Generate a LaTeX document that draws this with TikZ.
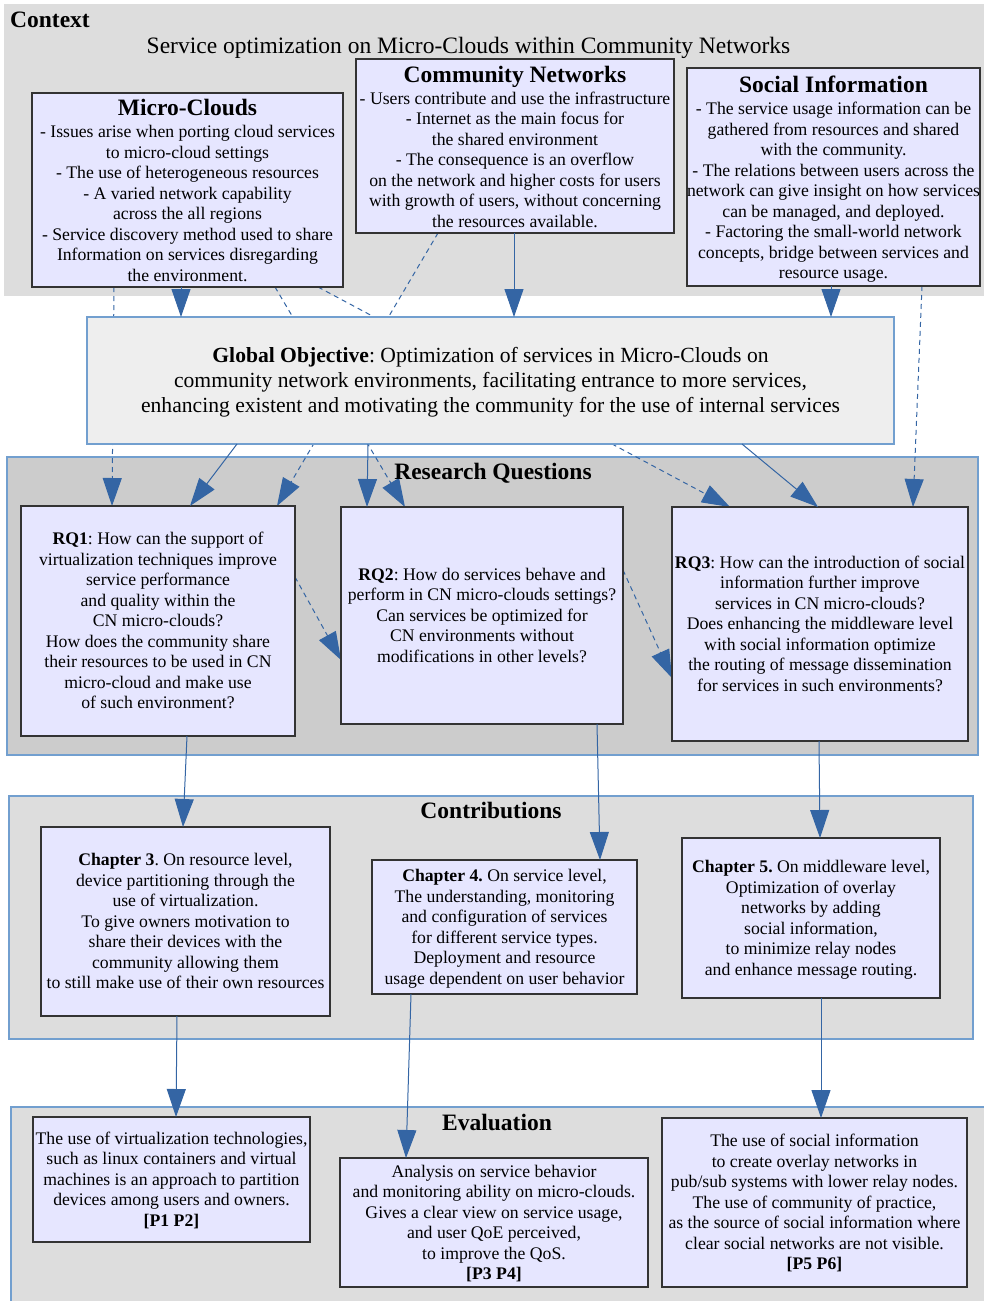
\documentclass[tikz,border=0pt]{standalone}
\usepackage{fontspec}
\setmainfont{Liberation Serif}
\usetikzlibrary{arrows.meta}
\frenchspacing

\definecolor{conn}{HTML}{3465A4}
\definecolor{panelgray}{HTML}{DDDDDD}
\definecolor{rqgray}{HTML}{CCCCCC}
\definecolor{panelline}{HTML}{729FCF}
\definecolor{boxfill}{HTML}{E6E6FF}
\definecolor{boxline}{HTML}{333333}
\definecolor{objfill}{HTML}{EEEEEE}

\pgfdeclarelayer{panels}
\pgfdeclarelayer{links}
\pgfsetlayers{panels,links,main}

\newcommand\bodyfont{\fontsize{17.7}{20.5}\selectfont}
\newcommand\headfont{\fontsize{23.5}{27}\selectfont\bfseries}
\newcommand\objfont{\fontsize{21.6}{25}\selectfont}
% full line-box struts for the first and the last line of a text block
\newcommand\fs{\rule{0pt}{0.891em}}
\newcommand\ls{\rule[-0.216em]{0pt}{0.216em}}

\tikzset{
  area/.style n args={4}{minimum width={#3-#1}, minimum height={#4-#2},
    at={({(#1+#3)/2},{(#2+#4)/2})}, inner sep=0pt, outer sep=0pt},
  panel/.style={fill=panelgray, draw=panelline, line width=1.2pt},
  infobox/.style={fill=boxfill, draw=boxline, line width=1.2pt, align=center, font=\bodyfont},
  objbox/.style={fill=objfill, draw=panelline, line width=1.2pt, align=center, font=\objfont},
  heading/.style={font=\headfont, inner sep=0pt},
  link/.style={draw=conn, line width=1pt, -{Triangle[width=19pt,length=28pt]}},
  dlink/.style={link, dash pattern=on 5pt off 4pt}
}

\begin{document}
\begin{tikzpicture}[x=1pt, y=-1pt]
\useasboundingbox (0,0) rectangle (984,1301);

% ---- background panels ----
\begin{pgfonlayer}{panels}
  \node[area={4}{4}{990}{296}, fill=panelgray] (ctx) {};
  \node[panel, area={7}{457}{978}{755}, fill=rqgray] (rqp) {};
  \node[panel, area={9}{796}{973}{1039}] (ctp) {};
  \node[panel, area={11}{1107}{992}{1310}] (evp) {};
\end{pgfonlayer}

% ---- panel headings ----
\node[heading, anchor=base west] (ctxhead) at (10,27) {Context};
\node[anchor=base, inner sep=0pt, font=\fontsize{23.5}{27}\selectfont] (ctxtitle) at (468.5,53)
  {Service optimization on Micro-Clouds within Community Networks};
\node[heading, anchor=base] (rqhead) at (493,479) {Research Questions};
\node[heading, anchor=base] (cthead) at (491,818) {Contributions};
\node[heading, anchor=base] (evhead) at (497,1130) {Evaluation};

% ---- context boxes ----
\node[infobox, area={32}{93}{343}{287}] (mc) {{\headfont\fs Micro-Clouds}\\[1.5pt]
- Issues arise when porting cloud services\\
to micro-cloud settings\\
- The use of heterogeneous resources\\
- A varied network capability\\
across the all regions\\
- Service discovery method used to share\\
Information on services disregarding\\
the environment.\ls};

\node[infobox, area={356}{59}{674}{233}] (cn) {{\headfont\fs Community Networks}\\[1.5pt]
- Users contribute and use the infrastructure\\
- Internet as the main focus for\\
the shared environment\\
- The consequence is an overflow\\
on the network and higher costs for users\\
with growth of users, without concerning\\
the resources available.\ls};

\node[infobox, area={688}{68}{979}{286}] (si) {{\headfont\fs Social Information}\\[2pt]
- The service usage information can be\\
gathered from resources and shared\\
with the community.\\
- The relations between users across the\\
network can give insight on how services\\
can be managed, and deployed.\\
- Factoring the small-world network\\
concepts, bridge between services and\\
resource usage.\ls};

% ---- global objective ----
\node[objbox, area={87}{317}{894}{444}] (go) {\fs\textbf{Global Objective}: Optimization of services in Micro-Clouds on\\
community network environments, facilitating entrance to more services,\\
enhancing existent and motivating the community for the use of internal services\ls};

% ---- research questions ----
\node[infobox, area={21}{506}{295}{736}] (rq1) {\fs\textbf{RQ1}: How can the support of\\
virtualization techniques improve\\
service performance\\
and quality within the\\
CN micro-clouds?\\
How does the community share\\
their resources to be used in CN\\
micro-cloud and make use\\
of such environment?\ls};

\node[infobox, area={341}{507}{623}{724}] (rq2) {\fs\textbf{RQ2}: How do services behave and\\
perform in CN micro-clouds settings?\\
Can services be optimized for\\
CN environments without\\
modifications in other levels?\ls};

\node[infobox, area={672}{507}{968}{741}] (rq3) {\fs\textbf{RQ3}: How can the introduction of social\\
information further improve\\
services in CN micro-clouds?\\
Does enhancing the middleware level\\
with social information optimize\\
the routing of message dissemination\\
for services in such environments?\ls};

% ---- contributions ----
\node[infobox, area={41}{827}{330}{1016}] (c3) {\fs\textbf{Chapter 3}. On resource level,\\
device partitioning through the\\
use of virtualization.\\
To give owners motivation to\\
share their devices with the\\
community allowing them\\
to still make use of their own resources\ls};

\node[infobox, area={372}{860}{637}{994}] (c4) {\fs\textbf{Chapter 4.} On service level,\\
The understanding, monitoring\\
and configuration of services\\
for different service types.\\
Deployment and resource\\
usage dependent on user behavior\ls};

\node[infobox, area={682}{838}{940}{998}] (c5) {\fs\textbf{Chapter 5.} On middleware level,\\
Optimization of overlay\\
networks by adding\\
social information,\\
to minimize relay nodes\\
and enhance message routing.\ls};

% ---- evaluation ----
\node[infobox, area={33}{1117}{310}{1242}] (e1) {\fs The use of virtualization technologies,\\
such as linux containers and virtual\\
machines is an approach to partition\\
devices among users and owners.\\
\textbf{[P1 P2]}\ls};

\node[infobox, area={340}{1158}{648}{1287}] (e2) {\fs Analysis on service behavior\\
and monitoring ability on micro-clouds.\\
Gives a clear view on service usage,\\
and user QoE perceived,\\
to improve the QoS.\\
\textbf{[P3 P4]}\ls};

\node[infobox, area={662}{1118}{967}{1287}] (e3) {\fs The use of social information\\
to create overlay networks in\\
pub/sub systems with lower relay nodes.\\
The use of community of practice,\\
as the source of social information where\\
clear social networks are not visible.\\
\textbf{[P5 P6]}\ls};

% ---- dashed influences (run behind the global objective) ----
\begin{pgfonlayer}{links}
  \draw[dlink] (mc.south -| 114,0) -- (rq1.north -| 112,0);
  \draw[dlink] (mc.south -| 275,0) -- (rq2.north -| 405,0);
  \draw[dlink] (mc.south -| 318,0) -- (rq3.north -| 730,0);
  \draw[dlink] (cn.south -| 438,0) -- (rq1.north -| 277,0);
  \draw[dlink] (si.south -| 922,0) -- (rq3.north -| 913,0);
  \draw[dlink] (rq1.east |- 0,577) -- (rq2.west |- 0,660);
  \draw[dlink] (rq2.east |- 0,570) -- (rq3.west |- 0,678);
\end{pgfonlayer}

% ---- solid flow ----
\draw[link] (mc.south -| 181,0) -- (go.north -| 181,0);
\draw[link] (cn.south -| 514,0) -- (go.north -| 514,0);
\draw[link] (si.south -| 831,0) -- (go.north -| 831,0);
\draw[link] (go.south -| 237,0) -- (rq1.north -| 190,0);
\draw[link] (go.south -| 368,0) -- (rq2.north -| 367,0);
\draw[link] (go.south -| 742,0) -- (rq3.north -| 818,0);
\draw[link] (rq1.south -| 187,0) -- (c3.north -| 183,0);
\draw[link] (rq2.south -| 597,0) -- (c4.north -| 600,0);
\draw[link] (rq3.south -| 819,0) -- (c5.north -| 820,0);
\draw[link] (c3.south -| 177,0) -- (e1.north -| 176,0);
\draw[link] (c4.south -| 411,0) -- (e2.north -| 406,0);
\draw[link] (c5.south -| 821,0) -- (e3.north -| 821,0);
\end{tikzpicture}
\end{document}
